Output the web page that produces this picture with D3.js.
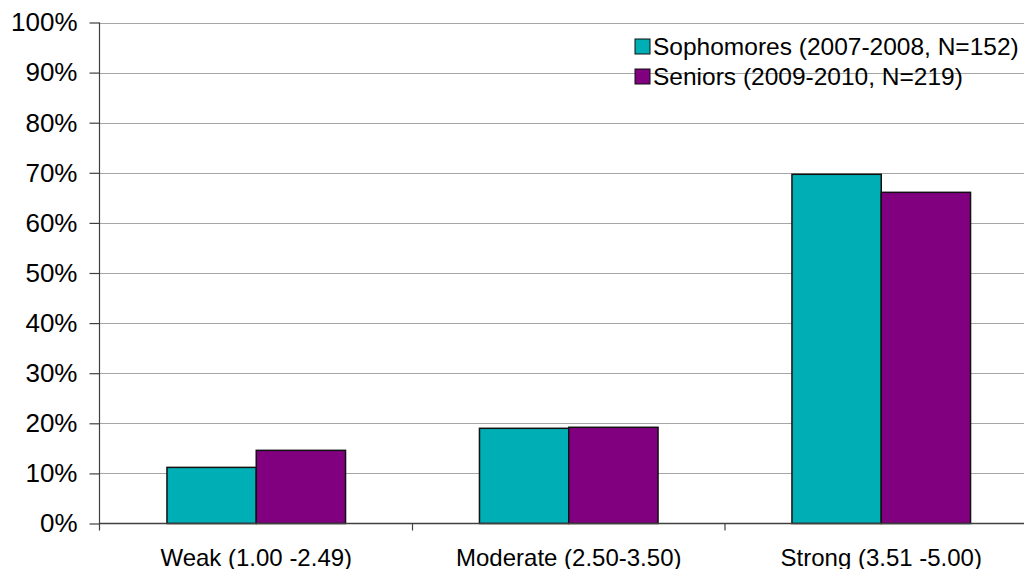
<!DOCTYPE html>
<html>
<head>
<meta charset="utf-8">
<script src="https://cdn.jsdelivr.net/npm/d3@7"></script>
<style>
  html, body { margin: 0; padding: 0; background: #fff; }
  svg { display: block; font-family: "Liberation Sans", Arial, sans-serif; }
</style>
</head>
<body>
<svg id="chart" width="1024" height="569"></svg>
<script>
// Share of students by score band, two cohorts
const categories = ["Weak (1.00 -2.49)", "Moderate (2.50-3.50)", "Strong (3.51 -5.00)"];
const seriesNames = ["Sophomores (2007-2008, N=152)", "Seniors (2009-2010, N=219)"];
const sophomores = [11.2, 19.0, 69.7];
const seniors = [14.6, 19.2, 66.1];
const yTicks = [0, 10, 20, 30, 40, 50, 60, 70, 80, 90, 100];
const colors = ["#00AEB5", "#800080"];

const seriesValues = [sophomores, seniors];

const svg = d3.select("#chart");
const margin = { left: 100, top: 22.5, bottom: 523.5 };
const plotRight = 1037.5;

const x0 = d3.scaleBand().domain(categories).range([margin.left, plotRight]).padding(0);
const x1 = d3.scaleBand().domain(seriesNames).range([0, x0.bandwidth()]).paddingInner(0).paddingOuter(0.75);
const y = d3.scaleLinear().domain([0, 100]).range([margin.bottom, margin.top]);

// horizontal gridlines
svg.append("g")
  .selectAll("line")
  .data(yTicks.filter(t => t > 0))
  .join("line")
  .attr("x1", margin.left)
  .attr("x2", 1024)
  .attr("y1", d => Math.round(y(d)) + 0.5)
  .attr("y2", d => Math.round(y(d)) + 0.5)
  .attr("stroke", "#a6a6a6")
  .attr("stroke-width", 1);

// bars
const groups = svg.append("g")
  .selectAll("g")
  .data(categories)
  .join("g")
  .attr("transform", d => `translate(${x0(d)},0)`);

groups.selectAll("rect")
  .data((d, i) => seriesNames.map((s, j) => ({ s, j, v: seriesValues[j][i] })))
  .join("rect")
  .attr("x", d => x1(d.s))
  .attr("width", x1.bandwidth())
  .attr("y", d => y(d.v))
  .attr("height", d => y(0) - y(d.v))
  .attr("fill", d => colors[d.j])
  .attr("stroke", "#111")
  .attr("stroke-width", 1.5);

// y axis
const yAxis = d3.axisLeft(y)
  .tickValues(yTicks)
  .tickFormat(d => d + "%")
  .tickSize(10)
  .tickPadding(12);

const gy = svg.append("g")
  .attr("transform", `translate(${margin.left - 0.5},0)`)
  .call(yAxis);
gy.select(".domain").attr("stroke", "#404040").attr("stroke-width", 1.2)
  .attr("d", `M0,${margin.top}V${margin.bottom + 7}`);
gy.selectAll(".tick line").attr("stroke", "#404040").attr("stroke-width", 1.2);
gy.selectAll(".tick text")
  .attr("fill", "#000")
  .style("font-size", "26px")
  .style("font-family", "'Liberation Sans', Arial, sans-serif");

// x axis: boundary ticks between categories
const gx = svg.append("g");
gx.append("line")
  .attr("x1", margin.left)
  .attr("x2", 1024)
  .attr("y1", margin.bottom)
  .attr("y2", margin.bottom)
  .attr("stroke", "#404040")
  .attr("stroke-width", 1.5);
gx.selectAll("line.bound")
  .data(categories.slice(1))
  .join("line")
  .attr("class", "bound")
  .attr("x1", d => x0(d))
  .attr("x2", d => x0(d))
  .attr("y1", margin.bottom)
  .attr("y2", margin.bottom + 7)
  .attr("stroke", "#404040")
  .attr("stroke-width", 1.2);
gx.selectAll("text")
  .data(categories)
  .join("text")
  .attr("x", d => x0(d) + x0.bandwidth() / 2)
  .attr("y", 565.5)
  .attr("text-anchor", "middle")
  .attr("fill", "#000")
  .style("font-size", "24px")
  .text(d => d);

// legend
const legend = svg.append("g").attr("transform", "translate(635,39)");
const items = legend.selectAll("g")
  .data(seriesNames)
  .join("g")
  .attr("transform", (d, i) => `translate(0,${i * 30})`);
items.append("rect")
  .attr("width", 15)
  .attr("height", 15)
  .attr("fill", (d, i) => colors[i])
  .attr("stroke", "#111")
  .attr("stroke-width", 1);
items.append("text")
  .attr("x", 18)
  .attr("y", 16)
  .attr("fill", "#000")
  .style("font-size", "24.5px")
  .text(d => d);
</script>
</body>
</html>
